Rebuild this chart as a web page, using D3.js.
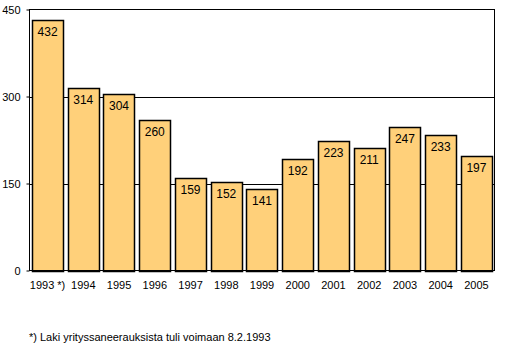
<!DOCTYPE html>
<html><head><meta charset="utf-8">
<script src="https://cdn.jsdelivr.net/npm/d3@7"></script>
<style>body{margin:0;background:#fff}svg{display:block}text{font-family:"Liberation Sans",Arial,sans-serif;fill:#000}</style>
</head><body>
<svg id="c" width="520" height="356"></svg>
<script>
const years = ["1993 *)","1994","1995","1996","1997","1998","1999","2000","2001","2002","2003","2004","2005"];
const values = [432,314,304,260,159,152,141,192,223,211,247,233,197];
const yTicks = [0,150,300,450];
const footnote = "*) Laki yrityssaneerauksista tuli voimaan 8.2.1993";

const svg = d3.select("#c");
const m = {l:29.5, r:494.5, t:9.5, b:270.5};
const x = d3.scaleBand().domain(years).range([m.l, m.r]).paddingInner(0.13).paddingOuter(0.07);
const y = d3.scaleLinear().domain([0,450]).range([m.b, m.t]);

// gridlines
svg.append("g").selectAll("line").data([150,300]).join("line")
  .attr("x1", m.l).attr("x2", m.r).attr("y1", d=>Math.round(y(d))+0.5).attr("y2", d=>Math.round(y(d))+0.5)
  .attr("stroke","#000").attr("stroke-width",1);

// bars
svg.append("g").selectAll("rect").data(values).join("rect")
  .attr("x",(d,i)=>Math.round(x(years[i]))+0.5)
  .attr("y",d=>Math.round(y(d))+0.5)
  .attr("width",Math.round(x.bandwidth()))
  .attr("height",d=>Math.round(y(0))-Math.round(y(d)))
  .attr("fill","#FFD07A").attr("stroke","#000").attr("stroke-width",1.5);

// value labels
svg.append("g").selectAll("text").data(values).join("text")
  .attr("x",(d,i)=>x(years[i])+x.bandwidth()/2)
  .attr("y",d=>y(d)+16)
  .attr("text-anchor","middle").attr("font-size","12px").text(d=>d);

// frame
svg.append("rect").attr("x",m.l).attr("y",m.t).attr("width",m.r-m.l).attr("height",m.b-m.t)
  .attr("fill","none").attr("stroke","#000").attr("stroke-width",1);

// y axis
const ya = svg.append("g").attr("transform",`translate(${m.l},0)`)
  .call(d3.axisLeft(y).tickValues(yTicks).tickSize(3).tickPadding(6));
ya.select(".domain").remove();
ya.selectAll("text").attr("font-size","11px").attr("font-family","Liberation Sans, Arial, sans-serif");
ya.selectAll("line").attr("stroke","#000");

// x axis labels
const xa = svg.append("g").attr("transform",`translate(0,${m.b})`)
  .call(d3.axisBottom(x).tickSize(0).tickPadding(11));
xa.select(".domain").remove();
xa.selectAll("text").attr("font-size","11px").attr("font-family","Liberation Sans, Arial, sans-serif");

svg.append("text").attr("x",29).attr("y",341).attr("font-size","11px").text(footnote);
</script>
</body></html>
